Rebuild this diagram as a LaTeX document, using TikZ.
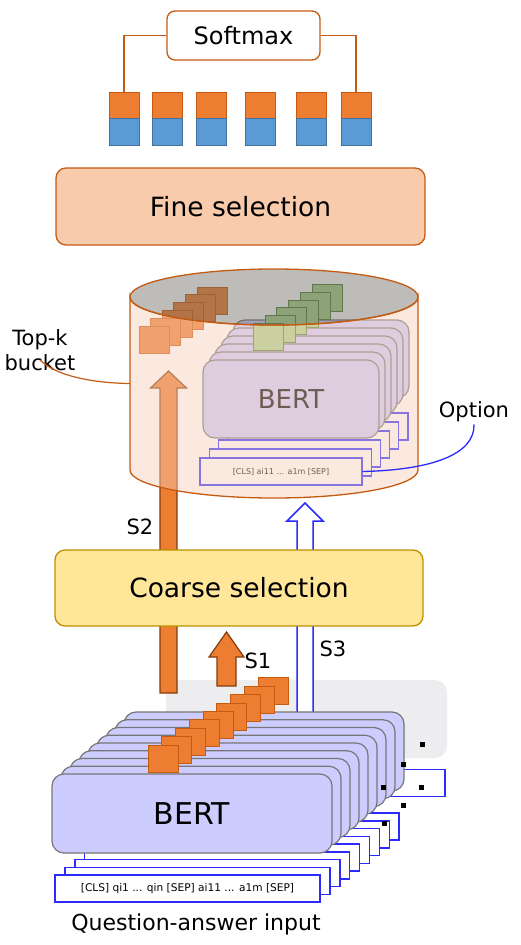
\documentclass[tikz,border=0pt]{standalone}
\usepackage{fontspec}
\setmainfont{DejaVu Sans}
\definecolor{sforange}{HTML}{ED7D31}
\definecolor{sfdark}{HTML}{C55A11}
\definecolor{sfbrown}{HTML}{843C0C}
\definecolor{sfblue}{HTML}{5B9BD5}
\definecolor{sfblueb}{HTML}{41719C}
\definecolor{finefill}{HTML}{F8CBAD}
\definecolor{coarsefill}{HTML}{FFE699}
\definecolor{coarseline}{HTML}{BF9000}
\definecolor{bertfill}{HTML}{CCCCFF}
\definecolor{bertline}{HTML}{767676}
\definecolor{qaline}{HTML}{2B2BFF}
\definecolor{poolgray}{HTML}{EDEDF0}
\definecolor{greenfill}{HTML}{A9D18E}
\definecolor{greenline}{HTML}{548235}
\definecolor{bodyfill}{RGB}{246,207,186}
\definecolor{topfill}{RGB}{110,106,98}

\begin{document}
\begin{tikzpicture}[x=1pt, y=-1pt,
    box/.style={draw, rounded corners=10pt, inner sep=0pt, line width=1.3pt},
    prob/.style={draw, line width=1pt, inner sep=0pt, minimum width=30pt},
    sq/.style={draw=sfdark, fill=sforange, line width=1pt, inner sep=0pt, minimum width=30pt, minimum height=27pt},
    gsq/.style={sq, draw=greenline, fill=greenfill},
    bert/.style={draw=bertline, fill=bertfill, rounded corners=12pt, line width=1.2pt, inner sep=0pt},
    qa/.style={draw=qaline, fill=white, line width=1.5pt, inner sep=0pt},
    blockarr/.style={draw=sfbrown, fill=sforange, line width=1.2pt},
    lab/.style={font=\fontsize{21}{25}\selectfont, inner sep=2pt}]
  \useasboundingbox (0,0) rectangle (520,945);

  \node[box, draw=sfdark, fill=white, rounded corners=8pt, minimum width=153pt, minimum height=49pt,
    font=\fontsize{24}{28}\selectfont] (soft) at (243.5,35.5) {Softmax};
  \foreach \x [count=\i] in {124,167,211,260,311,356} {
    \node[prob, draw=sfdark, fill=sforange, minimum height=26pt] (p\i) at (\x,105) {};
    \node[prob, draw=sfblueb, fill=sfblue, minimum height=27pt] (q\i) at (\x,131.5) {};
  }
  \draw[sfdark, line width=1.2pt] (soft.west) -| (p1.north);
  \draw[sfdark, line width=1.2pt] (soft.east) -| (p6.north);

  \node[box, draw=sfdark, fill=finefill, minimum width=369pt, minimum height=77pt,
    font=\fontsize{26.5}{30}\selectfont] (fine) at (240.5,206.5) {Fine selection};

  \node[fill=poolgray, rounded corners=12pt, minimum width=281pt, minimum height=78pt, inner sep=0pt]
    (pool) at (306.5,719) {};

  \coordinate (s2foot) at (168.5,693);
  \coordinate (s2tip) at (168.5,371);
  \draw[blockarr] (s2foot) ++(-8.5,0) -- ++(0,-305) -- ++(-9.5,0) -- (s2tip)
    -- ++(18,17) -- ++(-9.5,0) -- ++(0,305) -- cycle;
  \coordinate (s3foot) at (305,712);
  \coordinate (s3tip) at (305,503);
  \draw[qaline, fill=white, line width=1.5pt] (s3foot) ++(-8,0) -- ++(0,-191) -- ++(-10,0) -- (s3tip)
    -- ++(18,18) -- ++(-10,0) -- ++(0,191);

  \node[box, draw=coarseline, fill=coarsefill, minimum width=368pt, minimum height=76pt,
    font=\fontsize{26.5}{30}\selectfont] (coarse) at (239,588) {Coarse selection};

  \coordinate (s1foot) at (226.5,686);
  \coordinate (s1tip) at (226.5,632);
  \draw[blockarr] (s1foot) ++(-9.5,0) -- ++(0,-29) -- ++(-8,0) -- (s1tip)
    -- ++(17.5,25) -- ++(-8,0) -- ++(0,29) -- cycle;

  \node[qa, minimum width=265pt, minimum height=27pt] (qax) at (312.5,783) {};
  \foreach \i in {8,...,1}
    \node[qa, minimum width=265pt, minimum height=27pt] (qa\i) at (187.5+9.9*\i,888.5-7.75*\i) {};
  \node[qa, minimum width=265pt, minimum height=27pt, font=\fontsize{10.6}{12}\selectfont]
    (qa0) at (187.5,888.5) {[CLS] qi1 ... qin [SEP] ai11 ... a1m [SEP]};

  \foreach \i in {8,...,1}
    \node[bert, minimum width=280pt, minimum height=79pt] (bq\i) at (192+9*\i,813.5-7.75*\i) {};
  \node[bert, minimum width=280pt, minimum height=79pt, font=\fontsize{30}{34}\selectfont]
    (bq0) at (192,813.5) {BERT};
  \foreach \i in {8,...,0}
    \node[sq] (e\i) at (163+13.75*\i,758.5-8.4*\i) {};
  \foreach \p in {(422,744),(403,764),(383,787),(421,787),(403,805),(384,823)}
    \fill \p +(-2.5,-2.5) rectangle +(2.5,2.5);

  \foreach \i in {5,...,1}
    \node[qa, line width=1.3pt, minimum width=162pt, minimum height=27pt] (ai\i) at (281+9.2*\i,471.5-9*\i) {};
  \node[qa, line width=1.3pt, minimum width=162pt, minimum height=27pt, font=\fontsize{8}{10}\selectfont]
    (ai0) at (281,471.5) {[CLS] ai11 ... a1m [SEP]};
  \foreach \i in {5,...,1}
    \node[bert, minimum width=176pt, minimum height=78pt] (bk\i) at (291+6*\i,399-8*\i) {};
  \node[bert, minimum width=176pt, minimum height=78pt, font=\fontsize{26}{30}\selectfont]
    (bk0) at (291,399) {BERT};
  \foreach \i in {5,...,0}
    \node[sq] (k\i) at (154+11.6*\i,339.5-7.8*\i) {};
  \foreach \i in {5,...,0}
    \node[gsq] (g\i) at (268.5+11.7*\i,337-7.8*\i) {};

  \path[fill=bodyfill, fill opacity=0.45, draw=sfdark, line width=1.3pt]
    (130,297) -- (130,470) arc[start angle=180, end angle=360, x radius=144pt, y radius=28pt]
    -- (418,297) arc[start angle=0, end angle=-180, x radius=144pt, y radius=28pt] -- cycle;
  \path[fill=topfill, fill opacity=0.45, draw=sfdark, line width=1.3pt]
    (274,297) ellipse[x radius=144pt, y radius=28pt];
  \node[inner sep=0pt, minimum width=288pt, minimum height=229pt] (bucket) at (274,383.5) {};

  \node[lab, align=center] (topk) at (40,350) {Top-k\\bucket};
  \coordinate (tkfoot) at (40,360);
  \draw[sfdark, line width=1.2pt] (tkfoot) .. controls (55,375) and (90,383) .. (bucket.west);
  \node[lab] (opt) at (474,412) {Option};
  \draw[qaline, line width=1.3pt] (ai0.east) .. controls (430,470) and (475,455) .. (opt.south);

  \node[lab] (s2) at (140,527) {S2};
  \node[lab] (s1) at (258,661) {S1};
  \node[lab] (s3) at (333,649) {S3};
  \node[font=\fontsize{22}{26}\selectfont] (qalab) at (196,924) {Question-answer input};
\end{tikzpicture}
\end{document}
